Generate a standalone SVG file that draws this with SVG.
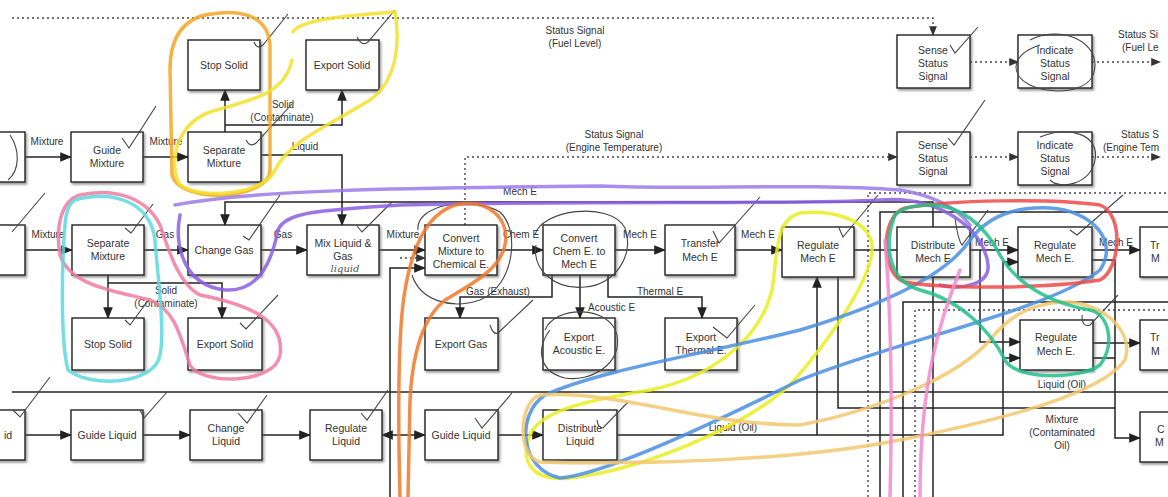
<svg xmlns="http://www.w3.org/2000/svg" width="1168" height="497" viewBox="0 0 1168 497">
<style>
.b{fill:#fff;stroke:#222;stroke-width:1.4;filter:url(#sh)}
.t{font-family:"Liberation Sans",Arial,sans-serif;font-size:10.5px;fill:#333;text-anchor:middle}
.s{font-family:"Liberation Sans",Arial,sans-serif;font-size:10.5px;fill:#333}
.l{font-family:"Liberation Sans",Arial,sans-serif;font-size:10px;fill:#333;text-anchor:middle}
.c{fill:none;stroke:#222;stroke-width:1.5}
.d{fill:none;stroke:#444;stroke-width:1.4;stroke-dasharray:2 3}
.k{fill:none;stroke:#444;stroke-width:1.1}
.p{fill:none;stroke-width:3.5;stroke-linecap:round;stroke-linejoin:round;opacity:.85}
</style>
<defs>
<filter id="sh" x="-10%" y="-10%" width="130%" height="130%"><feDropShadow dx="1.5" dy="2" stdDeviation="0.8" flood-color="#555" flood-opacity="0.6"/></filter>
<marker id="a" viewBox="0 0 10 10" refX="9" refY="5" markerWidth="8" markerHeight="8" orient="auto-start-reverse"><path d="M0 1L10 5L0 9Z" fill="#222"/></marker>
<marker id="ad" viewBox="0 0 10 10" refX="9" refY="5" markerWidth="7" markerHeight="7" orient="auto"><path d="M0 1L10 5L0 9Z" fill="#333"/></marker>
</defs>
<rect width="1168" height="497" fill="#fff"/>

<g id="connectors">
<path class="c" d="M25 157H71" marker-end="url(#a)"/>
<path class="c" d="M143 157H188" marker-end="url(#a)"/>
<path class="c" d="M225 132V90" marker-end="url(#a)"/>
<path class="c" d="M225 125H342V90" marker-end="url(#a)"/>
<path class="c" d="M261 155H342V225" marker-end="url(#a)"/>
<path class="d" d="M12 18H933V35" marker-end="url(#ad)"/>
<path class="d" d="M970 62H1018" marker-end="url(#ad)"/>
<path class="d" d="M1092 62H1160" marker-end="url(#ad)"/>
<path class="d" d="M465 225V157H897" marker-end="url(#ad)"/>
<path class="d" d="M970 157H1018" marker-end="url(#ad)"/>
<path class="d" d="M1092 157H1160" marker-end="url(#ad)"/>
<path class="c" d="M933 227V202H225V225" marker-end="url(#a)"/>
<path class="c" d="M25 250H72" marker-end="url(#a)"/>
<path class="c" d="M144 250H188" marker-end="url(#a)"/>
<path class="c" d="M261 250H307" marker-end="url(#a)"/>
<path class="c" d="M379 250H425" marker-end="url(#a)"/>
<path class="c" d="M497 250H543" marker-end="url(#a)"/>
<path class="c" d="M615 250H665" marker-end="url(#a)"/>
<path class="c" d="M735 250H782" marker-end="url(#a)"/>
<path class="c" d="M854 250H897"/>
<path class="c" d="M970 250H1018" marker-end="url(#a)"/>
<path class="c" d="M1092 250H1140" marker-end="url(#a)"/>
<path class="c" d="M108 275V318" marker-end="url(#a)"/>
<path class="c" d="M108 283H222V318" marker-end="url(#a)"/>
<path class="c" d="M390 497V268H425" marker-end="url(#a)"/>
<path class="d" d="M400 258H425" marker-end="url(#ad)"/>
<path class="c" d="M552 275V297H460V318" marker-end="url(#a)"/>
<path class="c" d="M580 275V318" marker-end="url(#a)"/>
<path class="c" d="M608 275V297H702V318" marker-end="url(#a)"/>
<path class="c" d="M980 250V342H1020" marker-end="url(#a)"/>
<path class="c" d="M617 435H1003V262H1018" marker-end="url(#a)"/>
<path class="c" d="M1003 358H1020" marker-end="url(#a)"/>
<path class="c" d="M817 435V277" marker-end="url(#a)"/>
<path class="c" d="M838 277V408H1115"/>
<path class="c" d="M1092 260H1115V438H1140" marker-end="url(#a)"/>
<path class="c" d="M1093 343H1140" marker-end="url(#a)"/>
<path class="c" d="M1093 358H1115"/>
<path class="c" d="M933 277V497"/>
<path class="c" d="M880 497V212H1168"/>
<path class="c" d="M903 497V302H1168"/>
<path class="d" d="M868 497V193H1168"/>
<path class="d" d="M915 497V310H1168"/>
<path class="c" d="M12 392H1168"/>
<path class="c" d="M25 435H71" marker-end="url(#a)"/>
<path class="c" d="M143 435H190" marker-end="url(#a)"/>
<path class="c" d="M262 435H310" marker-end="url(#a)"/>
<path class="c" d="M382 435H425" marker-start="url(#a)" marker-end="url(#a)"/>
<path class="c" d="M498 435H543" marker-end="url(#a)"/>
</g>

<g id="labels">
<text class="l" x="47" y="145">Mixture</text>
<text class="l" x="166" y="145">Mixture</text>
<text class="l" x="283" y="108">Solid</text>
<text class="l" x="282" y="121">(Contaminate)</text>
<text class="l" x="305" y="150">Liquid</text>
<text class="l" x="575" y="34">Status Signal</text>
<text class="l" x="575" y="47">(Fuel Level)</text>
<text class="l" x="614" y="138">Status Signal</text>
<text class="l" x="614" y="151">(Engine Temperature)</text>
<text class="l" x="1118" y="38" style="text-anchor:start">Status Si</text>
<text class="l" x="1122" y="51" style="text-anchor:start">(Fuel Le</text>
<text class="l" x="1121" y="138" style="text-anchor:start">Status S</text>
<text class="l" x="1103" y="151" style="text-anchor:start">(Engine Tem</text>
<text class="l" x="520" y="195">Mech E</text>
<text class="l" x="48" y="238">Mixture</text>
<text class="l" x="165" y="238">Gas</text>
<text class="l" x="283" y="238">Gas</text>
<text class="l" x="403" y="238">Mixture</text>
<text class="l" x="521" y="238">Chem E</text>
<text class="l" x="640" y="238">Mech E</text>
<text class="l" x="758" y="238">Mech E</text>
<text class="l" x="992" y="246">Mech E</text>
<text class="l" x="1116" y="246">Mech E</text>
<text class="l" x="166" y="294">Solid</text>
<text class="l" x="166" y="307">(Contaminate)</text>
<text class="l" x="498" y="295">Gas (Exhaust)</text>
<text class="l" x="588" y="311" style="text-anchor:start">Acoustic E</text>
<text class="l" x="660" y="295">Thermal E</text>
<text class="l" x="733" y="431">Liquid (Oil)</text>
<text class="l" x="1062" y="388">Liquid (Oil)</text>
<text class="l" x="1062" y="423">Mixture</text>
<text class="l" x="1062" y="436">(Contaminated</text>
<text class="l" x="1062" y="449">Oil)</text>
</g>

<g id="n-p1"><rect class="b" x="-20" y="132" width="45" height="50"/></g>
<g id="n-guide-mixture"><rect class="b" x="71" y="132" width="72" height="50"/><text class="t" x="107" y="154">Guide</text><text class="t" x="107" y="167">Mixture</text></g>
<g id="n-separate-mixture-a"><rect class="b" x="188" y="132" width="73" height="50"/><text class="t" x="224" y="154">Separate</text><text class="t" x="224" y="167">Mixture</text></g>
<g id="n-stop-solid-a"><rect class="b" x="188" y="40" width="72" height="50"/><text class="t" x="224" y="69">Stop Solid</text></g>
<g id="n-export-solid-a"><rect class="b" x="306" y="40" width="73" height="50"/><text class="t" x="342" y="69">Export Solid</text></g>
<g id="n-sense-1"><rect class="b" x="897" y="35" width="73" height="53"/><text class="t" x="933" y="54">Sense</text><text class="t" x="933" y="67">Status</text><text class="t" x="933" y="80">Signal</text></g>
<g id="n-indicate-1"><rect class="b" x="1018" y="35" width="74" height="53"/><text class="t" x="1055" y="54">Indicate</text><text class="t" x="1055" y="67">Status</text><text class="t" x="1055" y="80">Signal</text></g>
<g id="n-sense-2"><rect class="b" x="897" y="132" width="73" height="53"/><text class="t" x="933" y="149">Sense</text><text class="t" x="933" y="162">Status</text><text class="t" x="933" y="175">Signal</text></g>
<g id="n-indicate-2"><rect class="b" x="1018" y="132" width="74" height="53"/><text class="t" x="1055" y="149">Indicate</text><text class="t" x="1055" y="162">Status</text><text class="t" x="1055" y="175">Signal</text></g>

<g id="n-p2"><rect class="b" x="-20" y="225" width="45" height="50"/></g>
<g id="n-separate-mixture-b"><rect class="b" x="72" y="225" width="72" height="50"/><text class="t" x="108" y="247">Separate</text><text class="t" x="108" y="260">Mixture</text></g>
<g id="n-change-gas"><rect class="b" x="188" y="225" width="73" height="50"/><text class="t" x="224" y="254">Change Gas</text></g>
<g id="n-mix-liquid-gas"><rect class="b" x="307" y="225" width="72" height="50"/><text class="t" x="343" y="247">Mix Liquid &amp;</text><text class="t" x="343" y="260">Gas</text><text x="345" y="272" style="font-family:'DejaVu Serif',serif;font-style:italic;font-size:10px;fill:#555;text-anchor:middle">liquid</text></g>
<g id="n-convert-mixture"><rect class="b" x="425" y="225" width="72" height="50"/><text class="t" x="461" y="242">Convert</text><text class="t" x="461" y="255">Mixture to</text><text class="t" x="461" y="268">Chemical E.</text></g>
<g id="n-convert-chem"><rect class="b" x="543" y="225" width="72" height="50"/><text class="t" x="579" y="242">Convert</text><text class="t" x="579" y="255">Chem E. to</text><text class="t" x="579" y="268">Mech E</text></g>
<g id="n-transfer"><rect class="b" x="665" y="225" width="70" height="50"/><text class="t" x="700" y="247">Transfer</text><text class="t" x="700" y="261">Mech E</text></g>
<g id="n-regulate-1"><rect class="b" x="782" y="227" width="72" height="50"/><text class="t" x="818" y="249">Regulate</text><text class="t" x="818" y="262">Mech E</text></g>
<g id="n-distribute"><rect class="b" x="897" y="227" width="73" height="50"/><text class="t" x="933" y="249">Distribute</text><text class="t" x="933" y="262">Mech E</text></g>
<g id="n-regulate-2"><rect class="b" x="1018" y="227" width="74" height="50"/><text class="t" x="1055" y="249">Regulate</text><text class="t" x="1055" y="262">Mech E.</text></g>
<g id="n-transfer-a"><rect class="b" x="1140" y="227" width="60" height="50"/><text class="s" x="1150" y="249">Tr</text><text class="s" x="1151" y="262">M</text></g>
<g id="n-stop-solid-b"><rect class="b" x="72" y="318" width="72" height="52"/><text class="t" x="108" y="348">Stop Solid</text></g>
<g id="n-export-solid-b"><rect class="b" x="188" y="318" width="74" height="52"/><text class="t" x="225" y="348">Export Solid</text></g>
<g id="n-export-gas"><rect class="b" x="425" y="318" width="73" height="52"/><text class="t" x="461" y="348">Export Gas</text></g>
<g id="n-export-acoustic"><rect class="b" x="543" y="318" width="72" height="52"/><text class="t" x="579" y="341">Export</text><text class="t" x="579" y="354">Acoustic E.</text></g>
<g id="n-export-thermal"><rect class="b" x="665" y="318" width="72" height="52"/><text class="t" x="701" y="341">Export</text><text class="t" x="701" y="354">Thermal E.</text></g>
<g id="n-regulate-3"><rect class="b" x="1020" y="320" width="73" height="50"/><text class="t" x="1056" y="341">Regulate</text><text class="t" x="1056" y="355">Mech E.</text></g>
<g id="n-transfer-b"><rect class="b" x="1140" y="320" width="60" height="50"/><text class="s" x="1150" y="341">Tr</text><text class="s" x="1151" y="355">M</text></g>
<g id="n-change-mixture"><rect class="b" x="1140" y="412" width="60" height="50"/><text class="s" x="1157" y="433">C</text><text class="s" x="1155" y="446">M</text></g>

<g id="n-p3"><rect class="b" x="-20" y="410" width="45" height="50"/><text class="s" x="4" y="439">id</text></g>
<g id="n-guide-liquid-a"><rect class="b" x="71" y="410" width="72" height="50"/><text class="t" x="107" y="439">Guide Liquid</text></g>
<g id="n-change-liquid"><rect class="b" x="190" y="410" width="72" height="50"/><text class="t" x="226" y="432">Change</text><text class="t" x="226" y="445">Liquid</text></g>
<g id="n-regulate-liquid"><rect class="b" x="310" y="410" width="72" height="50"/><text class="t" x="346" y="432">Regulate</text><text class="t" x="346" y="445">Liquid</text></g>
<g id="n-guide-liquid-b"><rect class="b" x="425" y="410" width="73" height="50"/><text class="t" x="461" y="439">Guide Liquid</text></g>
<g id="n-distribute-liquid"><rect class="b" x="543" y="410" width="74" height="50"/><text class="t" x="580" y="432">Distribute</text><text class="t" x="580" y="445">Liquid</text></g>

<g id="pencil">
<path class="k" d="M10 135C20 150 20 170 8 180"/>
<path class="k" d="M122 138L129 148L156 106"/>
<path class="k" d="M246 140Q250 148 256 143L292 104"/>
<path class="k" d="M254 42Q257 50 263 45L288 14"/>
<path class="k" d="M357 37Q362 47 368 42L395 10"/>
<path class="k" d="M950 45L955 53L978 27"/>
<path class="k" d="M948 138L954 145L985 100"/>
<path class="k" d="M12 232L45 193"/>
<path class="k" d="M125 228L131 233L153 204"/>
<path class="k" d="M243 236L249 240L280 195"/>
<path class="k" d="M357 226L362 232L392 202"/>
<path class="k" d="M125 320L130 325L150 298"/>
<path class="k" d="M240 323L246 329L278 295"/>
<path class="k" d="M713 231L719 243L760 197"/>
<path class="k" d="M839 228L843 237L878 195"/>
<path class="k" d="M955 218Q958 240 962 245L988 210"/>
<path class="k" d="M1070 230L1077 235L1123 195"/>
<path class="k" d="M1082 315Q1082 328 1090 325L1118 295"/>
<path class="k" d="M713 327L727 338L755 305"/>
<path class="k" d="M490 325Q493 335 498 333L533 300"/>
<path class="k" d="M140 410L144 418L167 392"/>
<path class="k" d="M238 413L247 423L267 395"/>
<path class="k" d="M361 413L367 420L388 390"/>
<path class="k" d="M475 418L482 428L512 393"/>
<path class="k" d="M597 420Q598 428 603 428L628 402"/>
<path class="k" d="M13 410L20 417L50 377"/>
<path class="k" d="M418 230C415 205 470 195 500 212C520 230 515 285 480 300C450 310 420 300 412 275"/>
<path class="k" d="M535 235C540 210 610 200 625 228C635 255 615 285 585 287C555 290 532 270 536 245"/>
<path class="k" d="M545 330C555 305 610 305 617 335C622 365 590 382 565 378C540 372 535 350 550 330"/>
<path class="k" d="M1030 40C1060 25 1095 40 1095 65C1095 95 1050 95 1030 85C1010 75 1010 55 1040 45"/>
<path class="k" d="M1040 137C1070 125 1100 135 1095 160C1090 185 1060 190 1050 180"/>
</g>

<g id="highlights">
<path class="p" stroke="#f2a623" d="M205 15C240 8 268 15 270 45L270 170C270 200 180 205 172 175L170 70C170 35 185 18 210 14"/>
<path class="p" stroke="#f3e12a" d="M293 32C300 18 360 15 395 12C400 40 398 80 370 100C330 125 290 140 275 170C265 195 200 200 180 185C168 165 175 125 210 112C250 100 285 95 292 60"/>
<path class="p" stroke="#f07ba0" d="M80 195C110 188 145 195 160 225C170 255 180 285 200 295C250 305 285 320 280 355C275 385 200 385 190 365C180 335 175 310 150 300C110 290 70 285 60 255C55 225 62 200 80 195Z"/>
<path class="p" stroke="#5ad8e0" d="M75 200C110 190 150 200 155 240C158 280 165 330 160 355C155 385 90 388 68 370C60 340 62 260 65 225C66 210 70 203 75 200Z"/>
<path class="p" stroke="#8a5fe0" d="M180 215C175 240 180 285 225 290C260 292 272 260 278 230C285 212 320 210 400 205C600 200 800 205 880 200C940 195 985 230 988 265C990 285 960 290 940 285"/>
<path class="p" stroke="#9a7ae8" stroke-width="2.5" d="M175 205C250 190 400 188 600 186C700 190 800 183 900 190C930 195 955 205 970 225"/>
<path class="p" stroke="#f0782a" stroke-width="4" d="M400 497C398 420 398 330 405 290C412 250 425 215 455 205C490 198 510 220 505 245C500 270 470 285 445 300C420 320 412 360 410 400L408 497"/>
<path class="p" stroke="#e8ee20" d="M800 213C830 210 868 218 872 245C875 275 830 340 790 385C740 430 640 470 570 478C530 482 520 460 530 435C540 410 590 400 650 390C710 378 760 340 772 290C778 250 775 220 800 213Z"/>
<path class="p" stroke="#4a8ee0" stroke-width="2.5" d="M560 478C600 475 700 430 800 380C900 340 1050 310 1100 270C1120 240 1090 210 1050 208C1010 206 985 220 970 240C950 270 900 300 800 330C700 355 600 370 545 395C515 415 520 470 560 478Z"/>
<path class="p" stroke="#f2c870" stroke-width="2.5" d="M540 462C650 465 800 460 900 440C1000 420 1100 395 1125 360C1135 330 1100 300 1060 302C1030 305 1010 315 990 340C960 375 880 410 800 425C700 425 620 390 540 395C520 400 515 455 540 462Z"/>
<path class="p" stroke="#f04848" d="M905 208C950 200 1050 198 1100 205C1125 215 1120 270 1100 280C1050 288 950 290 905 282C880 275 880 215 905 208Z"/>
<path class="p" stroke="#20c08a" d="M895 215C885 240 885 280 920 290C960 300 990 330 1005 360C1015 380 1080 380 1100 365C1115 345 1110 315 1090 310C1060 305 1020 290 1000 255C985 225 960 205 930 205C910 205 900 210 895 215Z"/>
<path class="p" stroke="#f08ad0" stroke-width="3" d="M885 240C890 300 893 380 890 497"/>
<path class="p" stroke="#f08ad0" stroke-width="3" d="M960 270C940 320 920 380 920 497"/>
</g>
</svg>
